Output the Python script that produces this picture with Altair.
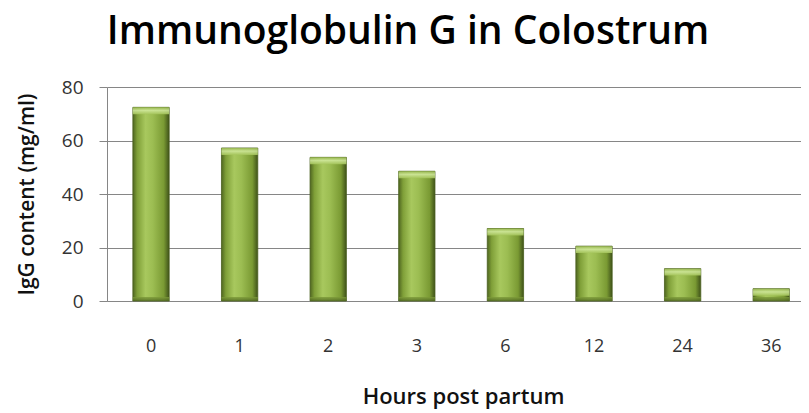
import altair as alt
import pandas as pd

hours = ["0", "1", "2", "3", "6", "12", "24", "36"]
igg = [72.4, 57.2, 53.7, 48.5, 27.1, 20.5, 12.1, 4.6]
y_ticks = [0, 20, 40, 60, 80]

df = pd.DataFrame({"hours": hours, "igg": igg})

FONT = "Open Sans"

side_stops = [
    alt.GradientStop(offset=0.0, color="#4f6620"),
    alt.GradientStop(offset=0.12, color="#7f9f38"),
    alt.GradientStop(offset=0.35, color="#a8c85e"),
    alt.GradientStop(offset=0.55, color="#9cbd52"),
    alt.GradientStop(offset=0.85, color="#7a9a33"),
    alt.GradientStop(offset=1.0, color="#3f5219"),
]
bar_fill = alt.Gradient(gradient="linear", x1=0, x2=1, y1=0, y2=0, stops=side_stops)

cap_fill = alt.Gradient(
    gradient="linear", x1=0, x2=0, y1=0, y2=1,
    stops=[
        alt.GradientStop(offset=0.0, color="#98b84f"),
        alt.GradientStop(offset=0.45, color="#cfe79a"),
        alt.GradientStop(offset=1.0, color="#a4c45a"),
    ],
)
base_fill = alt.Gradient(
    gradient="linear", x1=0, x2=0, y1=0, y2=1,
    stops=[
        alt.GradientStop(offset=0.0, color="#7e9c3a"),
        alt.GradientStop(offset=1.0, color="#4f6621"),
    ],
)

x_enc = alt.X(
    "hours:N",
    sort=hours,
    scale=alt.Scale(paddingInner=0.59, paddingOuter=0.2115, align=0.69),
    axis=alt.Axis(
        title="Hours post partum",
        labelAngle=0,
        ticks=False,
        domain=True,
        domainColor="#868686",
        labelPadding=36,
        labelFontSize=18,
        labelFont=FONT,
        labelColor="#333333",
        titleFont=FONT,
        titleFontSize=22,
        titleFontWeight=600,
        titleColor="#111111",
        titlePadding=31,
        titleX=356,
    ),
)
y_scale = alt.Scale(domain=[0, 80])

bars = (
    alt.Chart(df)
    .mark_bar(color=bar_fill, stroke="#4a5f1e", strokeWidth=0.8)
    .encode(
        x=x_enc,
        y=alt.Y(
            "igg:Q",
            scale=y_scale,
            axis=alt.Axis(
                title="IgG content (mg/ml)",
                values=y_ticks,
                grid=True,
                gridColor="#868686",
                gridWidth=1.2,
                domainColor="#868686",
                tickColor="#868686",
                tickSize=8,
                labelPadding=16,
                labelFontSize=19,
                labelFont=FONT,
                labelColor="#333333",
                titleFont=FONT,
                titleFontSize=21,
                titleFontWeight=600,
                titleColor="#111111",
                titlePadding=24,
            ),
        ),
    )
)

caps = (
    alt.Chart(df)
    .transform_calculate(cap_low="datum.igg - 2.6")
    .mark_bar(color=cap_fill, opacity=0.9)
    .encode(x=x_enc, y=alt.Y("igg:Q", scale=y_scale), y2="cap_low:Q")
)

bases = (
    alt.Chart(df)
    .transform_calculate(base_top="1.5", base_low="0")
    .mark_bar(color=base_fill, opacity=0.8)
    .encode(x=x_enc, y=alt.Y("base_top:Q", scale=y_scale), y2="base_low:Q")
)

chart = (
    alt.layer(bars, caps, bases)
    .properties(
        width=694,
        height=214,
        autosize=alt.AutoSizeParams(type="none"),
        padding={"left": 99, "top": 79, "right": 0, "bottom": 114},
        title=alt.TitleParams(
            text="Immunoglobulin G in Colostrum",
            font=FONT,
            fontSize=39,
            fontWeight=600,
            color="#000000",
            anchor="middle",
            dx=-46,
            offset=26,
        ),
    )
    .configure_view(stroke=None)
)

chart.save("out.html", embed_options={"renderer": "svg", "actions": False})
